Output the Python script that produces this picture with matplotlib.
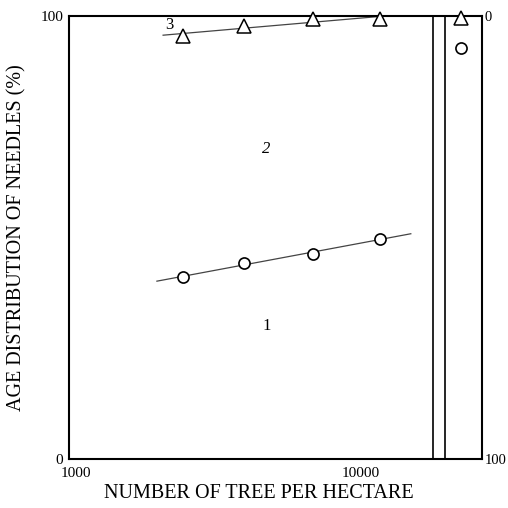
import numpy as np
import matplotlib
matplotlib.use("Agg")
import matplotlib.pyplot as plt
from matplotlib.transforms import ScaledTranslation

plt.rcParams["font.family"] = ["Liberation Serif", "DejaVu Serif"]

# Stand density (trees per hectare)
density = [2450, 3970, 6850, 11600]
# Cumulative share of current + 1-year-old needles (%) -> boundary between classes 2 and 3
upper_boundary = [95.5, 97.7, 99.3, 99.3]
# Share of current-year needles (%) -> boundary between classes 1 and 2
lower_boundary = [41.1, 44.2, 46.3, 49.7]

# Separate reference stand shown beyond the axis break
ref_density = [22000]
ref_upper = [99.5]
ref_lower = [92.8]

# Axis break position
break_left, break_right = 17600, 19400

class_labels = ["1", "2", "3"]
class_label_x = [4750, 4750, 2200]
class_label_y = [30, 70, 98]
class_label_style = ["normal", "italic", "normal"]

fig = plt.figure(figsize=(5.08, 5.08), dpi=100)
ax = fig.add_axes([0.1358, 0.0965, 0.9488 - 0.1358, 0.9685 - 0.0965])
ax.set_xscale("log")
ax.set_xlim(1000, 25940)
ax.set_ylim(0, 100)

for s in ax.spines.values():
    s.set_linewidth(1.5)
    s.set_color("black")

# Regression lines (percentage vs log density)
lx = np.log10(density)
k1, b1 = np.polyfit(lx, lower_boundary, 1)
k2, b2 = np.polyfit(lx, upper_boundary, 1)
xs1 = np.linspace(np.log10(2000), np.log10(14800), 50)
ax.plot(10 ** xs1, k1 * xs1 + b1, color="#444444", lw=0.9)
xs2 = np.linspace(np.log10(2100), np.log10(15000), 50)
ax.plot(10 ** xs2, np.minimum(k2 * xs2 + b2, 100), color="#444444", lw=0.9)

# Data points
ax.plot(density, upper_boundary, linestyle="none", marker="^", ms=9.5,
        mfc="white", mec="black", mew=1.1, clip_on=False, zorder=5)
ax.plot(density, lower_boundary, linestyle="none", marker="o", ms=8,
        mfc="white", mec="black", mew=1.2, zorder=5)
ax.plot(ref_density, ref_upper, linestyle="none", marker="^", ms=9.5,
        mfc="white", mec="black", mew=1.1, clip_on=False, zorder=5)
ax.plot(ref_density, ref_lower, linestyle="none", marker="o", ms=8,
        mfc="white", mec="black", mew=1.2, zorder=5)

# Axis break
ax.axvline(break_left, color="black", lw=1.2)
ax.axvline(break_right, color="black", lw=1.2)

# Class labels
for t, x, y, st in zip(class_labels, class_label_x, class_label_y, class_label_style):
    ax.text(x, y, t, ha="center", va="center", fontsize=12, style=st)

ax.set_xticks([1000, 10000])
ax.set_xticklabels(["1000", "10000"])
ax.xaxis.set_minor_locator(matplotlib.ticker.NullLocator())
ax.set_yticks([0, 100])
ax.set_yticklabels(["0", "100"])
ax.tick_params(length=0, labelsize=11, pad=4)
ax.tick_params(axis="x", pad=6)
first = ax.get_xticklabels()[0]
first.set_transform(first.get_transform() + ScaledTranslation(7 / 100, 0, fig.dpi_scale_trans))

ax2 = ax.twinx()
ax2.set_ylim(100, 0)
ax2.set_yticks([0, 100])
ax2.set_yticklabels(["0", "100"])
ax2.tick_params(length=0, labelsize=10.5, pad=2)
for s in ax2.spines.values():
    s.set_visible(False)

ax.set_xlabel("NUMBER OF TREE PER HECTARE", fontsize=14.5, labelpad=3)
ax.xaxis.set_label_coords(0.46, -0.057)
ax.set_ylabel("AGE DISTRIBUTION OF NEEDLES (%)", fontsize=14.5, labelpad=10)

fig.savefig("out.png", dpi=100, facecolor="white")
